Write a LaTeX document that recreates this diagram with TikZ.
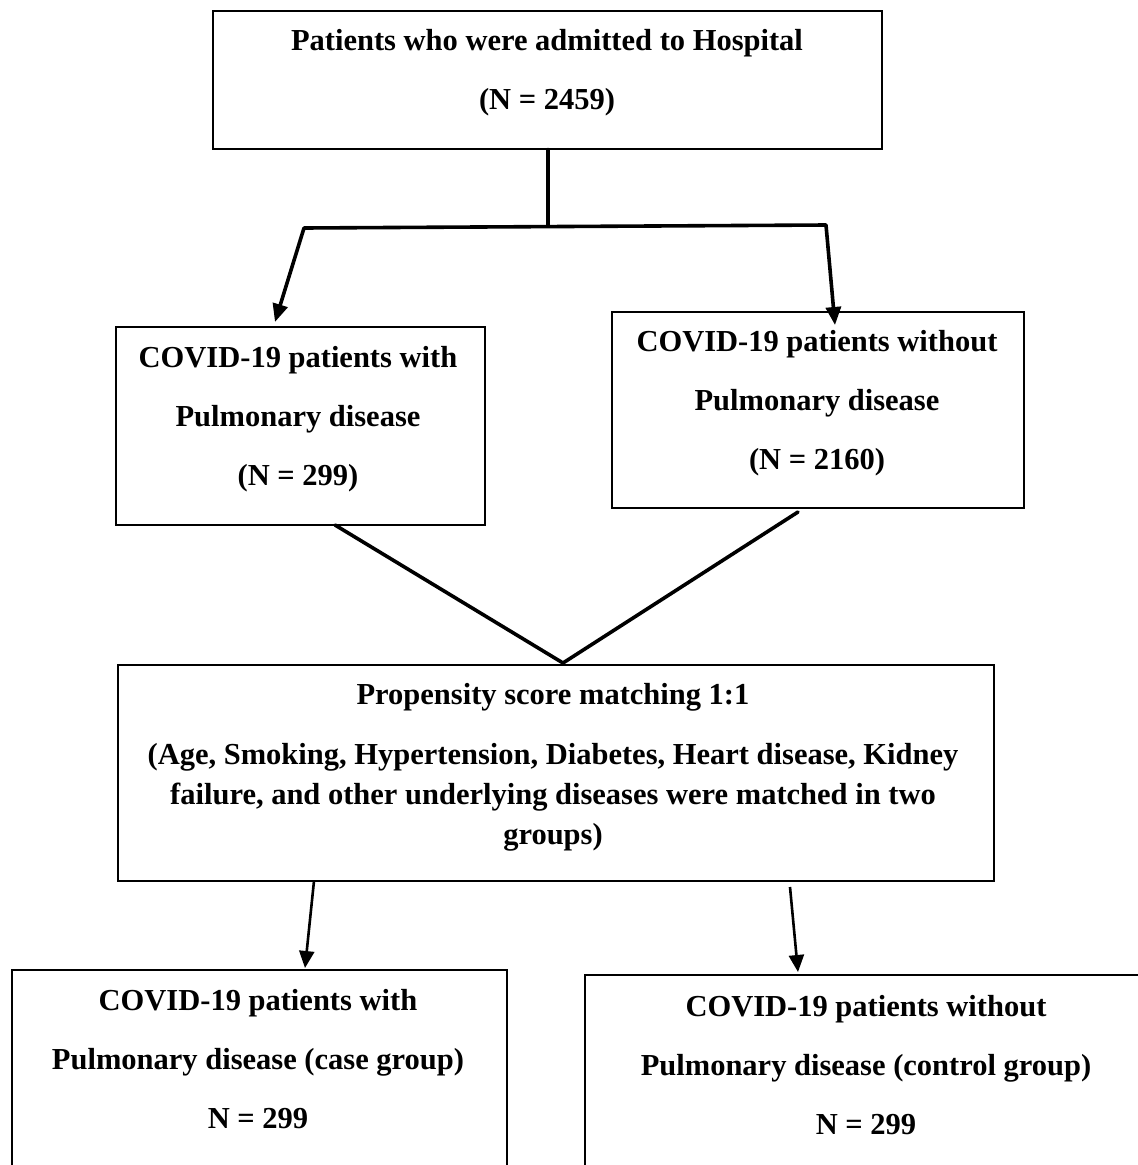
\documentclass[tikz,border=0pt]{standalone}
\usepackage{fontspec}
\setmainfont{Liberation Serif}
\usetikzlibrary{arrows.meta,calc}
\begin{document}
\begin{tikzpicture}[x=1pt,y=-1pt,
  box/.style={draw,line width=1.6pt,inner sep=0pt,anchor=north west},
  txt/.style={align=center,font=\fontsize{30.5}{59}\selectfont\bfseries,inner sep=0pt},
  conn/.style={line width=3.6pt,line cap=round},
  arr/.style={line width=3.6pt,-{Triangle[length=18pt,width=15pt]}},
  arrthin/.style={line width=2.6pt,-{Triangle[length=17pt,width=15pt]}}]
\useasboundingbox (0,0) rectangle (1138,1165);
% boxes
\node[box,minimum width=669pt,minimum height=138pt] (b1) at (212,10) {};
\node[box,minimum width=369pt,minimum height=198pt] (b2) at (115,326) {};
\node[box,minimum width=412pt,minimum height=196pt] (b3) at (611,311) {};
\node[box,minimum width=876pt,minimum height=216pt] (b4) at (117,664) {};
\node[box,minimum width=495pt,minimum height=230pt] (b5) at (11,969) {};
\node[box,minimum width=580pt,minimum height=230pt] (b6) at (584,974) {};
% texts
\node[txt] (t1) at (547,73) {Patients who were admitted to Hospital\\(N = 2459)};
\node[txt] (t2) at (298,419) {COVID-19 patients with\\Pulmonary disease\\(N = 299)};
\node[txt] (t3) at (817,403) {COVID-19 patients without\\Pulmonary disease\\(N = 2160)};
\node[txt,font=\fontsize{30.5}{40}\selectfont\bfseries] (t4) at (553,767) {Propensity score matching 1:1\\[20pt](Age, Smoking, Hypertension, Diabetes, Heart disease, Kidney\\failure, and other underlying diseases were matched in two\\groups)};
\node[txt] (t5) at (258,1059) {COVID-19 patients with\\Pulmonary disease (case group)\\N = 299};
\node[txt] (t6) at (866,1065) {COVID-19 patients without\\Pulmonary disease (control group)\\N = 299};
% connectors
\coordinate (j1) at (548,226);
\coordinate (jl) at (304,228);
\coordinate (jr) at (826,225);
\coordinate (a2) at (275,322);
\coordinate (a3) at (835,325);
\coordinate (s2) at (335,525);
\coordinate (s3) at (798,512);
\coordinate (m4) at (563,663);
\coordinate (s4l) at (314,881);
\coordinate (s4r) at (790,887);
\coordinate (a5) at (305,968);
\coordinate (a6) at (798,972);
\draw[conn] (b1.south -| j1) -- (j1);
\draw[conn] (jl) -- (jr);
\draw[arr] (jl) -- (a2);
\draw[arr] (jr) -- (a3);
\draw[conn] (s2) -- (m4) -- (s3);
\draw[arrthin] (s4l) -- (a5);
\draw[arrthin] (s4r) -- (a6);
\end{tikzpicture}
\end{document}
